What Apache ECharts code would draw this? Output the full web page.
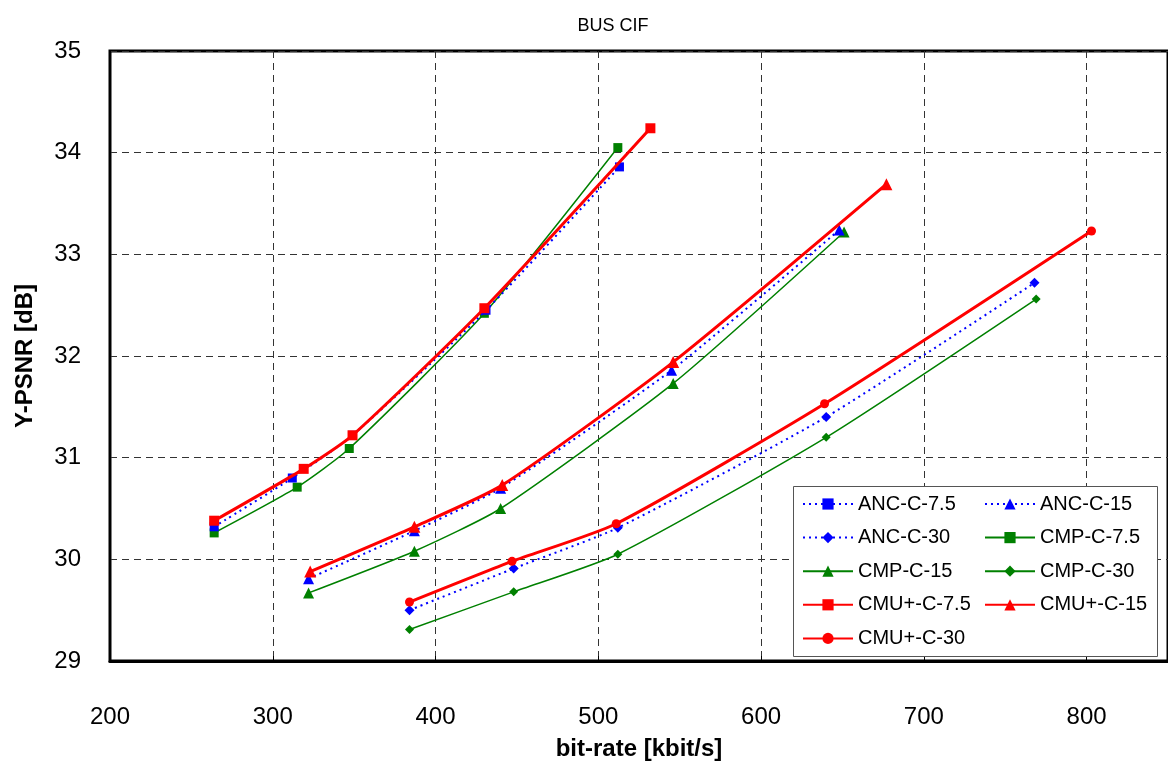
<!DOCTYPE html>
<html><head><meta charset="utf-8">
<script src="https://cdn.jsdelivr.net/npm/echarts@6/dist/echarts.min.js"></script>
<style>html,body{margin:0;padding:0;background:#fff}#c{width:1168px;height:767px}</style>
</head><body><div id="c"></div>
<script>
// bit-rate [kbit/s], Y-PSNR [dB]
const ancC75Rate = [264, 312, 349, 431, 513];
const ancC75Psnr = [30.32, 30.80, 31.22, 32.45, 33.86];
const ancC15Rate = [322, 387, 440, 545, 648];
const ancC15Psnr = [29.81, 30.28, 30.70, 31.86, 33.24];
const ancC30Rate = [384, 448, 512, 640, 768];
const ancC30Psnr = [29.50, 29.91, 30.31, 31.40, 32.72];
const cmpC75Rate = [264, 315, 347, 430, 512];
const cmpC75Psnr = [30.26, 30.71, 31.09, 32.42, 34.05];
const cmpC15Rate = [322, 387, 440, 546, 651];
const cmpC15Psnr = [29.67, 30.08, 30.50, 31.73, 33.22];
const cmpC30Rate = [384, 448, 512, 640, 769];
const cmpC30Psnr = [29.31, 29.68, 30.05, 31.20, 32.56];
const cmuC75Rate = [264, 319, 349, 430, 532];
const cmuC75Psnr = [30.38, 30.89, 31.22, 32.47, 34.24];
const cmuC15Rate = [323, 387, 441, 546, 677];
const cmuC15Psnr = [29.88, 30.32, 30.73, 31.94, 33.69];
const cmuC30Rate = [384, 447, 511, 639, 803];
const cmuC30Psnr = [29.58, 29.98, 30.35, 31.53, 33.23];

const seriesNames = ['ANC-C-7.5','ANC-C-15','ANC-C-30','CMP-C-7.5','CMP-C-15','CMP-C-30','CMU+-C-7.5','CMU+-C-15','CMU+-C-30'];
const titleText = 'BUS CIF';
const xName = 'bit-rate [kbit/s]';
const yName = 'Y-PSNR [dB]';

const FONT = '"Liberation Sans", Arial, sans-serif';
const zip = (a, b) => a.map((v, i) => [v, b[i]]);

const styles = {
  ANC: {color: '#0000FF', width: 2, type: [2, 4]},
  CMP: {color: '#008000', width: 1.5, type: 'solid'},
  CMU: {color: '#FF0000', width: 3, type: 'solid'}
};
function mk(name, fam, sym, size, rate, psnr) {
  const s = styles[fam];
  return {
    name, type: 'line', smooth: 0.2, symbol: sym, symbolSize: size,
    data: zip(rate, psnr),
    lineStyle: {color: s.color, width: s.width, type: s.type},
    itemStyle: {color: s.color},
    z: fam === 'CMU' ? 5 : (fam === 'ANC' ? 4 : 3)
  };
}
const series = [
  mk(seriesNames[0], 'ANC', 'rect', 9, ancC75Rate, ancC75Psnr),
  mk(seriesNames[1], 'ANC', 'triangle', 11, ancC15Rate, ancC15Psnr),
  mk(seriesNames[2], 'ANC', 'diamond', 10, ancC30Rate, ancC30Psnr),
  mk(seriesNames[3], 'CMP', 'rect', 9, cmpC75Rate, cmpC75Psnr),
  mk(seriesNames[4], 'CMP', 'triangle', 11, cmpC15Rate, cmpC15Psnr),
  mk(seriesNames[5], 'CMP', 'diamond', 9, cmpC30Rate, cmpC30Psnr),
  mk(seriesNames[6], 'CMU', 'rect', 10, cmuC75Rate, cmuC75Psnr),
  mk(seriesNames[7], 'CMU', 'triangle', 12, cmuC15Rate, cmuC15Psnr),
  mk(seriesNames[8], 'CMU', 'circle', 9, cmuC30Rate, cmuC30Psnr)
];

const legendCommon = {
  orient: 'vertical', itemWidth: 50, itemHeight: 14, itemGap: 13.6, padding: 0,
  top: 494, z: 20, selectedMode: false,
  textStyle: {fontFamily: FONT, fontSize: 20, color: '#000', lineHeight: 20}
};

const chart = echarts.init(document.getElementById('c'), null, {renderer: 'canvas'});
chart.setOption({
  animation: false,
  backgroundColor: '#fff',
  title: {text: titleText, left: 608, top: 12, textAlign: 'center',
    textStyle: {fontFamily: FONT, fontSize: 18, fontWeight: 'normal', color: '#000'}},
  grid: {left: 110, top: 51, width: 1064, height: 610, show: true, borderColor: '#000', borderWidth: 3, backgroundColor: 'transparent'},
  xAxis: {
    type: 'value', min: 200, max: 850, interval: 100,
    name: xName, nameLocation: 'middle', nameGap: 76,
    nameTextStyle: {fontFamily: FONT, fontSize: 24, fontWeight: 'bold', color: '#000'},
    axisLine: {show: true, lineStyle: {color: '#000', width: 3}},
    axisTick: {show: true, inside: true, length: 5, lineStyle: {color: '#000'}},
    axisLabel: {fontFamily: FONT, fontSize: 24, color: '#000', margin: 44, showMaxLabel: false},
    splitLine: {show: true, lineStyle: {color: '#333', width: 1, type: [7, 5]}}
  },
  yAxis: {
    type: 'value', min: 29, max: 35, interval: 1,
    name: yName, nameLocation: 'middle', nameGap: 73,
    nameTextStyle: {fontFamily: FONT, fontSize: 24, fontWeight: 'bold', color: '#000'},
    axisLine: {show: true, lineStyle: {color: '#000', width: 2}},
    axisTick: {show: false},
    axisLabel: {fontFamily: FONT, fontSize: 24, color: '#000', margin: 29},
    splitLine: {show: true, lineStyle: {color: '#333', width: 1, type: [7, 5]}}
  },
  graphic: [{
    type: 'rect', z: 10, silent: true,
    shape: {x: 793.5, y: 486.5, width: 364, height: 170},
    style: {fill: '#fff', stroke: '#555', lineWidth: 1}
  }],
  legend: [
    Object.assign({}, legendCommon, {left: 802, data: [seriesNames[0], seriesNames[2], seriesNames[4], seriesNames[6], seriesNames[8]]}),
    Object.assign({}, legendCommon, {left: 984, data: [seriesNames[1], seriesNames[3], seriesNames[5], seriesNames[7]]})
  ],
  series
});
</script></body></html>
